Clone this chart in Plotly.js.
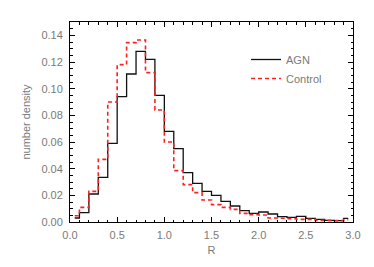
<!DOCTYPE html>
<html>
<head>
<meta charset="utf-8">
<script src="https://cdn.plot.ly/plotly-3.0.1.min.js"></script>
<style>html,body{margin:0;padding:0;background:#fff;}#chart{width:374px;height:267px;}</style>
</head>
<body>
<div id="chart"></div>
<script>
// Bin centers of R (bin width 0.1)
const binCenters = [0.05,0.15,0.25,0.35,0.45,0.55,0.65,0.75,0.85,0.95,
                    1.05,1.15,1.25,1.35,1.45,1.55,1.65,1.75,1.85,1.95,
                    2.05,2.15,2.25,2.35,2.45,2.55,2.65,2.75,2.85,2.95];
const agnDensity = [0.003,0.007,0.021,0.0335,0.059,0.094,0.111,0.128,0.122,0.095,
                    0.068,0.055,0.037,0.029,0.023,0.020,0.0155,0.012,0.0085,0.0065,
                    0.0075,0.006,0.004,0.0035,0.0042,0.0027,0.002,0.0012,0.001,0.0027];
const controlDensity = [0.0047,0.011,0.023,0.047,0.090,0.118,0.1345,0.1365,0.112,0.084,
                    0.060,0.0385,0.028,0.022,0.0165,0.013,0.011,0.0095,0.0065,0.0055,
                    0.0053,0.003,0.0028,0.0025,0.002,0.002,0.0012,0.0012,0.001,0.0018];
const xTickVals = [0,0.5,1,1.5,2,2.5,3];
const yTickVals = [0,0.02,0.04,0.06,0.08,0.10,0.12,0.14];

const textColor = '#7a7a7a';
const font = {family: 'Liberation Sans, Arial, sans-serif', size: 11, color: textColor};

const traces = [
  {x: binCenters, y: agnDensity, type: 'scatter', mode: 'lines', name: 'AGN',
   line: {shape: 'hvh', color: '#111111', width: 1.3}},
  {x: binCenters, y: controlDensity, type: 'scatter', mode: 'lines', name: 'Control',
   line: {shape: 'hvh', color: '#ff2020', width: 1.6, dash: '4px,3px'}}
];

const axisCommon = {
  showline: true, linecolor: '#000', linewidth: 1, mirror: 'ticks',
  ticks: 'inside', tickcolor: '#000', tickwidth: 1,
  showgrid: false, zeroline: false, tickfont: font, automargin: true
};

const layout = {
  width: 374, height: 267,
  margin: {l: 70, r: 21, t: 22, b: 45},
  paper_bgcolor: '#fff', plot_bgcolor: '#fff',
  font: font,
  showlegend: true,
  legend: {x: 0.622, y: 0.885, xanchor: 'left', yanchor: 'top',
           bgcolor: 'rgba(0,0,0,0)', font: {family: font.family, size: 11, color: textColor}},
  xaxis: Object.assign({}, axisCommon, {
    range: [0, 3], tickvals: xTickVals, tickformat: '.1f', ticklen: 5,
    minor: {dtick: 0.1, ticks: 'inside', ticklen: 2.5, tickcolor: '#000', showgrid: false},
    title: {text: 'R', font: font, standoff: 6},
    ticklabelstandoff: 3
  }),
  yaxis: Object.assign({}, axisCommon, {
    range: [0, 0.15], tickvals: yTickVals, tickformat: '.2f', ticklen: 5,
    minor: {dtick: 0.005, ticks: 'inside', ticklen: 2.5, tickcolor: '#000', showgrid: false},
    title: {text: 'number density', font: font, standoff: 8},
    ticklabelstandoff: 4
  })
};

Plotly.newPlot('chart', traces, layout, {staticPlot: true, displayModeBar: false});
</script>
</body>
</html>
